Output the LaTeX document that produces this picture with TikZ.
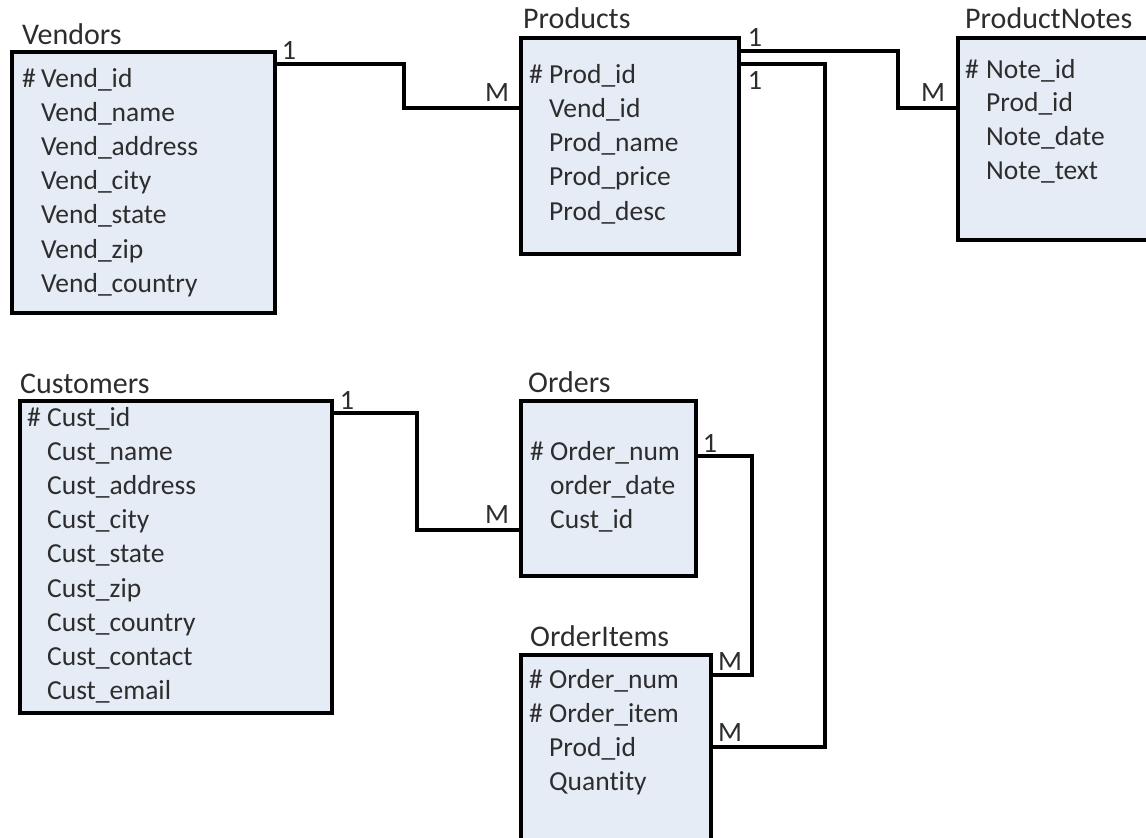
\documentclass[tikz,border=0pt]{standalone}
\usepackage{fontspec}
\setmainfont{Carlito}[RawFeature={-liga}]
\definecolor{boxfill}{RGB}{230,236,246}
\definecolor{txt}{RGB}{45,45,45}
\begin{document}
\begin{tikzpicture}[x=1pt,y=-1pt,
  entity/.style={draw=black,line width=4pt,fill=boxfill},
  ttl/.style={anchor=base west,inner sep=0pt,text=txt,font=\fontsize{30}{34}\selectfont},
  fld/.style={anchor=base west,inner sep=0pt,text=txt,font=\fontsize{27.5}{32}\selectfont},
  card/.style={anchor=center,inner sep=0pt,text=txt,font=\fontsize{28}{32}\selectfont},
  link/.style={draw=black,line width=3.2pt}]
\useasboundingbox (0,0) rectangle (1146,838);
\clip (0,0) rectangle (1146,838);
% boxes
\node[entity,minimum width=263pt,minimum height=261pt,anchor=north west] (V) at (10,50) {};
\node[entity,minimum width=218pt,minimum height=216pt,anchor=north west] (P) at (519,36) {};
\node[entity,minimum width=220pt,minimum height=202pt,anchor=north west] (PN) at (956,36) {};
\node[entity,minimum width=312pt,minimum height=312pt,anchor=north west] (C) at (18,399) {};
\node[entity,minimum width=175pt,minimum height=175pt,anchor=north west] (O) at (519,399) {};
\node[entity,minimum width=190pt,minimum height=220pt,anchor=north west] (OI) at (519,653) {};
% titles
\node[ttl] (tV) at (22,44) {Vendors};
\node[ttl] (tP) at (523,28) {Products};
\node[ttl] (tPN) at (965,28) {ProductNotes};
\node[ttl] (tC) at (20,393) {Customers};
\node[ttl] (tO) at (528,392) {Orders};
\node[ttl] (tOI) at (530,646) {OrderItems};
% Vendors fields
\node[fld] (v0h) at (22,87) {\#};
\foreach \t [count=\i from 0] in {Vend\_id,Vend\_name,Vend\_address,Vend\_city,Vend\_state,Vend\_zip,Vend\_country}
  \node[fld] (v\i) at (41,87+34.2*\i) {\t};
% Products fields
\node[fld] (p0h) at (529,83) {\#};
\foreach \t [count=\i from 0] in {Prod\_id,Vend\_id,Prod\_name,Prod\_price,Prod\_desc}
  \node[fld] (p\i) at (549,83+34.3*\i) {\t};
% ProductNotes fields
\node[fld] (n0h) at (965,78) {\#};
\foreach \t [count=\i from 0] in {Note\_id,Prod\_id,Note\_date,Note\_text}
  \node[fld] (n\i) at (986,78+33.8*\i) {\t};
% Customers fields
\node[fld] (c0h) at (27,426) {\#};
\foreach \t [count=\i from 0] in {Cust\_id,Cust\_name,Cust\_address,Cust\_city,Cust\_state,Cust\_zip,Cust\_country,Cust\_contact,Cust\_email}
  \node[fld] (c\i) at (47,426+34.2*\i) {\t};
% Orders fields
\node[fld] (o0h) at (530,460) {\#};
\foreach \t [count=\i from 0] in {Order\_num,order\_date,Cust\_id}
  \node[fld] (o\i) at (550,460+34*\i) {\t};
% OrderItems fields
\node[fld] (i0h) at (529,688) {\#};
\node[fld] (i1h) at (529,722) {\#};
\foreach \t [count=\i from 0] in {Order\_num,Order\_item,Prod\_id,Quantity}
  \node[fld] (i\i) at (549,688+34*\i) {\t};
% connectors
\draw[link] (V.east |- 0,64) -| (404,108) -- (P.west |- 0,108);
\draw[link] (P.east |- 0,51) -| (898,108) -- (PN.west |- 0,108);
\draw[link] (P.east |- 0,64) -| (825,747) -- (OI.east |- 0,747);
\draw[link] (C.east |- 0,413) -| (417,530) -- (O.west |- 0,530);
\draw[link] (O.east |- 0,456) -| (752,675) -- (OI.east |- 0,675);
% cardinalities
\node[card] (k1) at (289,50) {1};
\node[card] (k2) at (497,93) {M};
\node[card] (k3) at (755,37) {1};
\node[card] (k4) at (755,80) {1};
\node[card] (k5) at (933,93) {M};
\node[card] (k6) at (347,400) {1};
\node[card] (k7) at (497,515) {M};
\node[card] (k8) at (710,443) {1};
\node[card] (k9) at (730,662) {M};
\node[card] (k10) at (730,733) {M};
\end{tikzpicture}
\end{document}
